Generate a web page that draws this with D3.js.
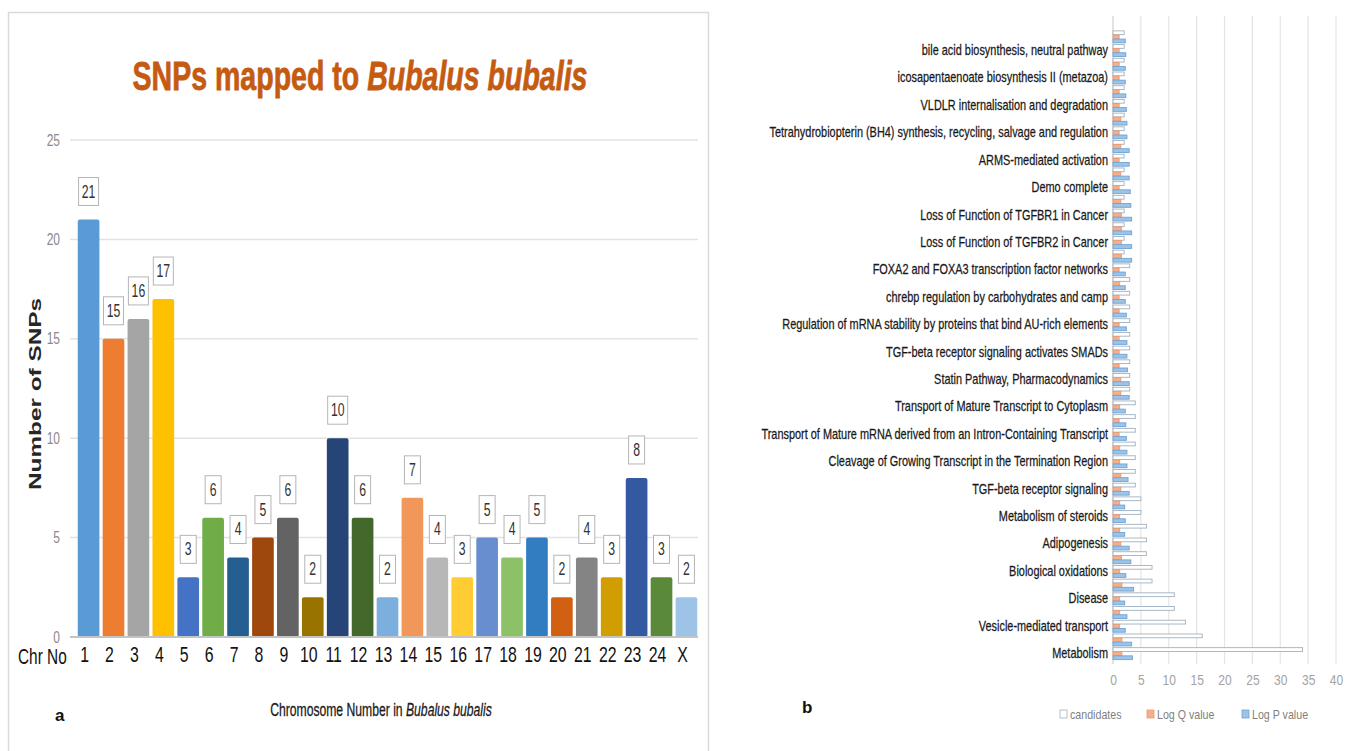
<!DOCTYPE html>
<html><head><meta charset="utf-8">
<script src="https://cdn.jsdelivr.net/npm/d3@7"></script>
<style>
html,body{margin:0;padding:0;background:#fff;}
svg{display:block;}
text{font-family:"Liberation Sans",Arial,sans-serif;}
</style></head><body>
<svg id="chart" width="1347" height="751"></svg>
<script>
// ---------- Panel a data ----------
const chromosomes = ["1","2","3","4","5","6","7","8","9","10","11","12","13","14","15","16","17","18","19","20","21","22","23","24","X"];
const snpCounts = [21,15,16,17,3,6,4,5,6,2,10,6,2,7,4,3,5,4,5,2,4,3,8,3,2];
const snpTicks = [0,5,10,15,20,25];
const barColors = ["#5B9BD5","#ED7D31","#A5A5A5","#FFC000","#4472C4","#70AD47","#255E91","#9E480E","#636363","#997300","#264478","#43682B","#7CAFDD","#F1975A","#B7B7B7","#FFCD33","#698ED0","#8CC168","#327DC2","#D26012","#848484","#D09E00","#335AA1","#5A8A39","#9DC3E6"];

// ---------- Panel b data (bottom category first) ----------
const pathwayLabels = [
 "Metabolism","",
 "Vesicle-mediated transport","",
 "Disease","",
 "Biological oxidations","",
 "Adipogenesis","",
 "Metabolism of steroids","",
 "TGF-beta receptor signaling","",
 "Cleavage of Growing Transcript in the Termination Region","",
 "Transport of Mature mRNA derived from an Intron-Containing Transcript","",
 "Transport of Mature Transcript to Cytoplasm","",
 "Statin Pathway, Pharmacodynamics","",
 "TGF-beta receptor signaling activates SMADs","",
 "Regulation of mRNA stability by proteins that bind AU-rich elements","",
 "chrebp regulation by carbohydrates and camp","",
 "FOXA2 and FOXA3 transcription factor networks","",
 "Loss of Function of TGFBR2 in Cancer","",
 "Loss of Function of TGFBR1 in Cancer","",
 "Demo complete","",
 "ARMS-mediated activation","",
 "Tetrahydrobiopterin (BH4) synthesis, recycling, salvage and regulation","",
 "VLDLR internalisation and degradation","",
 "icosapentaenoate biosynthesis II (metazoa)","",
 "bile acid biosynthesis, neutral pathway",""
];
const candidates = [34,16,13,11,11,7,7,6,6,6,5,5,4,4,4,4,4,4,4,3,3,3,3,3,3,3,3,3,3,2,2,2,2,2,2,2,2,2,2,2,2,2,2,2,2,2];
const logQ = [1.6,1.6,1.2,1.2,1.2,1.6,1.2,1.5,1.4,1.2,1.2,1.2,1.4,1.4,1.2,1.2,1.1,1.1,1.2,1.4,1.4,1.1,1.1,1.1,1.1,1.1,1.1,1.2,1.1,1.5,1.5,1.5,1.5,1.4,1.1,1.4,1.1,1.4,1.1,1.4,1.1,1.1,1.1,1.1,1.1,1.1];
const logP = [3.5,3.35,2.2,2.5,2.1,3.7,2.3,3.2,2.9,2.1,2.2,2.1,2.9,2.7,2.5,2.5,2.4,2.3,2.2,2.9,2.9,2.6,2.5,2.5,2.4,2.4,2.2,2.2,2.2,3.35,3.35,3.35,3.35,3.2,3.1,2.9,2.9,2.9,2.5,2.5,2.4,2.3,2.2,2.2,2.3,2.2];
const enrichTicks = [0,5,10,15,20,25,30,35,40];
const seriesNames = ["candidates","Log Q value","Log P value"];
const seriesFill = ["#ffffff","#F4B08C","#9DC3E6"];
const seriesStroke = ["#9fb1c2","#E99A72","#6FA3D6"];

const svg = d3.select("#chart");

// horizontally squeeze text about its own x anchor (keeps bounding boxes true)
function condense(sel, factor){
  sel.each(function(){
    const x = +(this.getAttribute("x") || 0);
    const prev = this.getAttribute("transform") || "";
    this.setAttribute("transform", `${prev} translate(${x},0) scale(${factor},1) translate(${-x},0)`);
  });
}
// normal + italic text squeezed to a total width, centered at cx
function twoPart(parent, parts, cx, y, totalW, attrs){
  const t = parent.append("text").attr("x",cx).attr("y",y).attr("text-anchor","middle");
  Object.entries(attrs).forEach(([k,v])=>t.attr(k,v));
  parts.forEach(p=>{
    const s = t.append("tspan").text(p.text);
    if (p.italic) s.attr("font-style","italic");
  });
  const w = t.node().getComputedTextLength();
  condense(t, totalW/w);
  return t;
}

// ================= Panel a =================
svg.append("rect").attr("x",8.5).attr("y",12.5).attr("width",700).attr("height",760)
  .attr("fill","none").attr("stroke","#dadada").attr("stroke-width",1.5);

twoPart(svg, [{text:"SNPs mapped to\u00a0"},{text:"Bubalus bubalis", italic:true}], 360, 90, 455,
  {"font-size":41, "font-weight":"bold", "fill":"#C55A11", "stroke":"#C55A11", "stroke-width":0.8});

const ya = d3.scaleLinear().domain([0,25]).range([637,140]);
const xa = d3.scaleBand().domain(chromosomes).range([76,699]).paddingInner(0.13).paddingOuter(0.07);

// grid
svg.append("g").selectAll("line").data(snpTicks.filter(d=>d>0)).join("line")
  .attr("x1",70).attr("x2",698).attr("y1",d=>ya(d)).attr("y2",d=>ya(d))
  .attr("stroke","#e2e2e2").attr("stroke-width",1.5);

// y axis labels
const yAxisA = svg.append("g").attr("transform","translate(70,0)")
  .call(d3.axisLeft(ya).tickValues(snpTicks).tickSize(0).tickPadding(10));
yAxisA.select(".domain").remove();
yAxisA.selectAll("text").attr("font-size",16).attr("fill","#8a8a8a")
  .attr("font-family","Liberation Sans, Arial, sans-serif");
condense(yAxisA.selectAll("text"), 0.75);

// bars
svg.append("g").selectAll("rect").data(snpCounts).join("rect")
  .attr("x",(d,i)=>xa(chromosomes[i])).attr("width",xa.bandwidth())
  .attr("y",d=>ya(d)).attr("height",d=>ya(0)-ya(d))
  .attr("rx",2).attr("fill",(d,i)=>barColors[i]);

// baseline
svg.append("line").attr("x1",70).attr("x2",698).attr("y1",ya(0)).attr("y2",ya(0))
  .attr("stroke","#c4c4c4").attr("stroke-width",2);

// value label boxes
const lbl = svg.append("g").selectAll("g").data(snpCounts).join("g")
  .attr("transform",(d,i)=>`translate(${xa(chromosomes[i])+xa.bandwidth()/2},${ya(d)-14})`);
lbl.append("rect")
  .attr("x",d=>String(d).length>1?-10:-8).attr("width",d=>String(d).length>1?20:16)
  .attr("y",-28).attr("height",28)
  .attr("fill","#fff").attr("stroke","#b5b5b5").attr("stroke-width",1);
const lt = lbl.append("text").attr("y",-8).attr("text-anchor","middle")
  .attr("font-size",18).attr("fill","#333").text(d=>d);
condense(lt, 0.68);

// x axis labels
const xAxisA = svg.append("g").attr("transform",`translate(-4,${ya(0)+1})`)
  .call(d3.axisBottom(xa).tickSize(0).tickPadding(8));
xAxisA.select(".domain").remove();
xAxisA.selectAll("text").attr("font-size",22).attr("fill","#111")
  .attr("font-family","Liberation Sans, Arial, sans-serif");
condense(xAxisA.selectAll("text"), 0.72);
const chrNo = svg.append("text").attr("x",18).attr("y",664).attr("font-size",22).attr("fill","#111").text("Chr No");
condense(chrNo, 0.7);

// axis titles
svg.append("text").attr("transform","translate(41,394) rotate(-90)").attr("text-anchor","middle")
  .attr("font-family","DejaVu Sans, Verdana, sans-serif").attr("font-weight","bold")
  .attr("font-size",16).attr("fill","#262626").attr("textLength",192).attr("lengthAdjust","spacingAndGlyphs")
  .text("Number  of SNPs");

twoPart(svg, [{text:"Chromosome Number in\u00a0"},{text:"Bubalus bubalis", italic:true}], 381, 716, 222,
  {"font-size":19, "fill":"#1a1a1a", "stroke":"#1a1a1a", "stroke-width":0.3});

svg.append("text").attr("x",55).attr("y",721).attr("font-size",17).attr("font-weight","bold").attr("fill","#111").text("a");
svg.append("text").attr("x",802).attr("y",713).attr("font-size",17).attr("font-weight","bold").attr("fill","#111").text("b");

// ================= Panel b =================
const xb = d3.scaleLinear().domain([0,40]).range([1113,1336]);
const idx = d3.range(pathwayLabels.length);
const yb = d3.scaleBand().domain(idx).range([660.5,30]).paddingInner(0.08).paddingOuter(0.04);
const ys = d3.scaleBand().domain([0,1,2]).range([0,yb.bandwidth()]).padding(0.08);

svg.append("g").selectAll("line").data(enrichTicks.filter(d=>d>0)).join("line")
  .attr("x1",d=>xb(d)).attr("x2",d=>xb(d)).attr("y1",16).attr("y2",664)
  .attr("stroke","#e4e4e4").attr("stroke-width",1.2);
svg.append("line").attr("x1",xb(0)).attr("x2",xb(0)).attr("y1",16).attr("y2",664)
  .attr("stroke","#cfcfcf").attr("stroke-width",1.2);

const seriesData = [candidates, logQ, logP];
const groups = svg.append("g").selectAll("g").data(idx).join("g")
  .attr("transform",d=>`translate(0,${yb(d)})`);
groups.selectAll("rect").data(i=>seriesData.map((s,k)=>({k, v:s[i]}))).join("rect")
  .attr("x",xb(0)).attr("y",d=>ys(d.k)).attr("height",ys.bandwidth())
  .attr("width",d=>xb(d.v)-xb(0))
  .attr("fill",d=>seriesFill[d.k]).attr("stroke",d=>seriesStroke[d.k]).attr("stroke-width",0.9);

const yAxisB = svg.append("g").attr("transform",`translate(${xb(0)},0)`)
  .call(d3.axisLeft(yb).tickValues(idx.filter(i=>pathwayLabels[i]!=="")).tickFormat(i=>pathwayLabels[i]).tickSize(0).tickPadding(5));
yAxisB.select(".domain").remove();
yAxisB.selectAll("text").attr("font-size",14).attr("fill","#1a1a1a")
  .attr("stroke","#1a1a1a").attr("stroke-width",0.25)
  .attr("font-family","Liberation Sans, Arial, sans-serif");
condense(yAxisB.selectAll("text"), 0.78);

const xAxisB = svg.append("g").attr("transform","translate(0,664)")
  .call(d3.axisBottom(xb).tickValues(enrichTicks).tickSize(0).tickPadding(10));
xAxisB.select(".domain").remove();
xAxisB.selectAll("text").attr("font-size",15).attr("fill","#a3a3a3")
  .attr("font-family","Liberation Sans, Arial, sans-serif");
condense(xAxisB.selectAll("text"), 0.8);

// legend
const legX = [1060,1147,1242];
const leg = svg.append("g").selectAll("g").data(seriesNames).join("g")
  .attr("transform",(d,i)=>`translate(${legX[i]},715)`);
leg.append("rect").attr("x",0).attr("y",-5).attr("width",7).attr("height",8)
  .attr("fill",(d,i)=>seriesFill[i]).attr("stroke",(d,i)=>seriesStroke[i]).attr("stroke-width",0.8);
const legT = leg.append("text").attr("x",10).attr("y",4).attr("font-size",13).attr("fill","#7f7f7f").text(d=>d);
condense(legT, 0.82);
</script>
</body></html>
